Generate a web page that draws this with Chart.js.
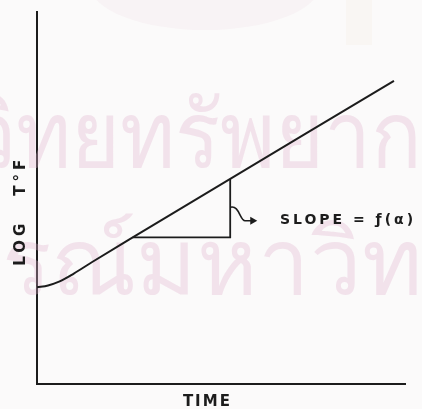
<!DOCTYPE html>
<html>
<head>
<meta charset="utf-8">
<script src="https://cdn.jsdelivr.net/npm/chart.js@4.4.1/dist/chart.umd.min.js"></script>
<style>
  html, body { margin: 0; padding: 0; background: #fbfafa; }
  #wrap { width: 422px; height: 409px; }
</style>
</head>
<body>
<div id="wrap"><canvas id="chart"></canvas></div>
<script>
// curve (arbitrary units, 0..100 on both axes)
const timeValues = [0, 3, 6, 10, 15, 25, 97];
const logTValues = [26, 26.5, 27.5, 29.7, 32.8, 38.8, 81.5];

// slope triangle under the straight part
const triangleX = [26, 52.5, 52.5];
const triangleY = [39.4, 39.4, 55.1];

const xTitle = "TIME";
const yTitleParts = ["LOG", "T°F"];
const slopeText = "SLOPE = ƒ(α)";
const watermark = ["วิทยทรัพยากร", "จุฬาลงกรณ์มหาวิทยาลัย"];

const ink = "#1c1c1c";

const toPoints = (xs, ys) => xs.map((x, i) => ({ x: x, y: ys[i] }));

// faint scanned-page watermark behind the plot
const watermarkPlugin = {
    id: "watermark",
    beforeDatasetsDraw(chart) {
        const ctx = chart.ctx;
        ctx.save();
        ctx.fillStyle = "rgba(236, 205, 222, 0.14)";
        ctx.beginPath();
        ctx.ellipse(205, -15, 115, 45, 0, 0, Math.PI * 2);
        ctx.fill();
        ctx.fillStyle = "rgba(236, 226, 200, 0.12)";
        ctx.fillRect(346, 0, 26, 45);

        ctx.fillStyle = "rgba(226, 178, 205, 0.33)";
        ctx.textBaseline = "alphabetic";
        ctx.font = "84px 'Noto Sans', 'DejaVu Sans', sans-serif";
        ctx.save();
        ctx.translate(-31, 167);
        ctx.scale(1, 1.1);
        ctx.fillText(watermark[0], 0, 0);
        ctx.restore();
        ctx.font = "92px 'Noto Sans', 'DejaVu Sans', sans-serif";
        ctx.fillText(watermark[1], -324, 294);
        ctx.restore();
    }
};

const notesPlugin = {
    id: "notes",
    afterDraw(chart) {
        const ctx = chart.ctx;
        const xs = chart.scales.x;
        const ys = chart.scales.y;
        ctx.save();
        ctx.fillStyle = ink;
        ctx.strokeStyle = ink;

        // squiggly arrow from the triangle to the label
        const ax = xs.getPixelForValue(52.5);
        const ay = ys.getPixelForValue(47.5);
        const bx = xs.getPixelForValue(59.3);
        const by = ys.getPixelForValue(43.9);
        ctx.lineWidth = 1.6;
        ctx.beginPath();
        ctx.moveTo(ax, ay);
        ctx.bezierCurveTo(ax + 9, ay - 3, ax + 10, by + 1, ax + 15, by);
        ctx.lineTo(bx - 4, by);
        ctx.stroke();
        ctx.beginPath();
        ctx.moveTo(bx + 2, by);
        ctx.lineTo(bx - 5, by - 4);
        ctx.lineTo(bx - 5, by + 4);
        ctx.closePath();
        ctx.fill();

        ctx.font = "bold 14px 'DejaVu Sans', sans-serif";
        ctx.letterSpacing = "3px";
        ctx.textBaseline = "middle";
        ctx.textAlign = "left";
        ctx.fillText(slopeText, xs.getPixelForValue(66), ys.getPixelForValue(43.9));

        // axis titles
        ctx.font = "bold 15px 'DejaVu Sans', sans-serif";
        ctx.letterSpacing = "2px";
        ctx.textAlign = "center";
        ctx.fillText(xTitle, xs.getPixelForValue(46.3), ys.getPixelForValue(-5));

        ctx.letterSpacing = "4px";
        ctx.translate(21, 0);
        ctx.rotate(-Math.PI / 2);
        ctx.fillText(yTitleParts[0], -ys.getPixelForValue(38), 0);
        ctx.fillText(yTitleParts[1], -ys.getPixelForValue(56), 0);
        ctx.restore();
    }
};

new Chart(document.getElementById("chart"), {
    type: "scatter",
    data: {
        datasets: [
            {
                label: "log T",
                data: toPoints(timeValues, logTValues),
                showLine: true,
                cubicInterpolationMode: "monotone",
                borderColor: ink,
                borderWidth: 2,
                pointRadius: 0,
                fill: false,
            },
            {
                label: "slope",
                data: toPoints(triangleX, triangleY),
                showLine: true,
                borderColor: ink,
                borderWidth: 1.8,
                pointRadius: 0,
                tension: 0,
                fill: false,
            },
        ],
    },
    options: {
        responsive: true,
        maintainAspectRatio: false,
        animation: false,
        layout: {
            padding: { left: 37, top: 12, right: 17, bottom: 25 }
        },
        plugins: {
            legend: { display: false },
            tooltip: { enabled: false }
        },
        scales: {
            x: {
                type: "linear",
                min: 0,
                max: 100,
                grid: { display: false, drawTicks: false },
                ticks: { display: false },
                border: { display: true, color: ink, width: 2 }
            },
            y: {
                type: "linear",
                min: 0,
                max: 100,
                grid: { display: false, drawTicks: false },
                ticks: { display: false },
                border: { display: true, color: ink, width: 2 }
            }
        }
    },
    plugins: [watermarkPlugin, notesPlugin]
});
</script>
</body>
</html>
